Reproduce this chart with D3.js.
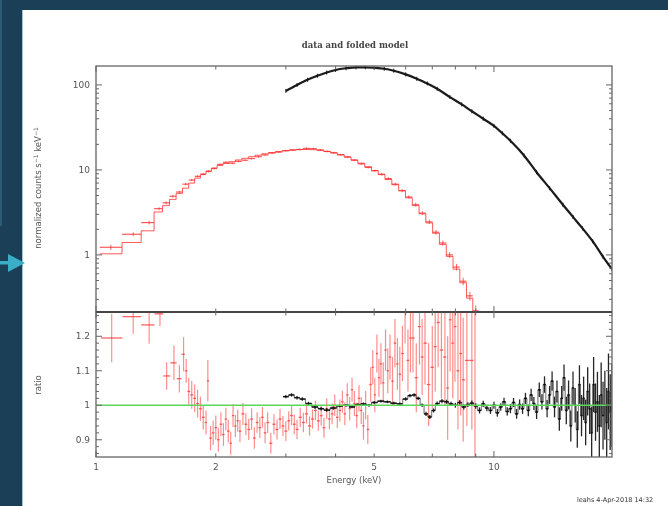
<!DOCTYPE html>
<html><head><meta charset="utf-8">
<script src="https://cdn.jsdelivr.net/npm/d3@7"></script>
<style>body{margin:0;background:#1a3f57;overflow:hidden} svg{display:block}</style>
</head><body>
<svg id="c" width="668" height="506"></svg>
<script>
// ---------- DATA ----------
const title = "data and folded model";
const xLabel = "Energy (keV)";
const xTickVals = [1, 2, 5, 10];
const xTickText = ["1", "2", "5", "10"];
const yTopTickVals = [1, 10, 100];
const yTopTickText = ["1", "10", "100"];
const yRatioTickVals = [0.9, 1, 1.1, 1.2];
const yRatioTickText = ["0.9", "1", "1.1", "1.2"];

// red spectrum (upper panel): energy (keV), data, folded model, fractional error
const redE = [1.09,1.24,1.36,1.44,1.50,1.56,1.62,1.68,1.74,1.80,1.86,1.92,1.98,2.05,2.12,2.20,2.28,2.37,2.46,2.56,2.66,2.77,2.88,3.00,3.12,3.25,3.38,3.52,3.66,3.81,3.96,4.12,4.29,4.46,4.64,4.83,5.02,5.22,5.43,5.65,5.88,6.11,6.36,6.61,6.88,7.15,7.44,7.74,8.05,8.37,8.70,9.00];
const redV = [1.23,1.75,2.4,3.5,4.1,4.9,5.5,6.8,7.6,8.4,8.9,9.6,10.4,11.6,12.3,12.0,12.6,13.0,13.6,14.3,15.0,15.8,16.2,16.8,17.1,17.4,17.9,17.8,17.2,16.5,15.9,15.1,14.2,13.0,11.8,10.7,9.8,8.9,7.9,6.8,5.7,4.8,3.9,3.1,2.45,1.85,1.38,1.0,0.72,0.49,0.33,0.22];
const redM = [1.03,1.40,1.92,3.2,3.8,4.5,5.3,6.1,7.0,8.0,8.9,9.7,10.5,11.3,11.9,12.5,13.1,13.7,14.3,14.9,15.5,16.0,16.5,16.9,17.2,17.4,17.4,17.3,17.0,16.5,15.9,15.1,14.2,13.1,12.0,10.9,9.8,8.8,7.7,6.7,5.7,4.7,3.8,3.05,2.38,1.80,1.33,0.96,0.68,0.47,0.31,0.21];
const redErr = [0.07,0.05,0.05,0.04,0.04,0.04,0.035,0.035,0.03,0.03,0.03,0.03,0.03,0.025,0.025,0.025,0.025,0.025,0.025,0.025,0.025,0.025,0.025,0.025,0.025,0.025,0.025,0.025,0.025,0.025,0.025,0.025,0.025,0.03,0.03,0.03,0.03,0.035,0.035,0.04,0.04,0.045,0.05,0.05,0.06,0.06,0.07,0.08,0.09,0.1,0.12,0.15];

// black spectrum (upper panel)
const blackE = [3.0,3.2,3.4,3.6,3.8,4.0,4.25,4.5,4.75,5.0,5.3,5.6,6.0,6.4,6.8,7.2,7.75,8.3,8.8,9.4,10.0,10.5,11.0,11.9,12.8,13.8,14.9,15.8,16.7,17.7,18.8,19.8];
const blackV = [85,100,115,128,140,150,157,161,161,159,155,147,133,118,104,90,72,59,49,40,33,27,22,14.8,9.4,6.1,3.9,2.8,2.05,1.45,0.95,0.68];

// red ratio (lower panel): energy, ratio, error
const redRE = [1.095,1.24,1.36,1.448,1.505,1.57,1.62,1.66,1.685,1.71,1.74,1.77,1.80,1.83,1.86,1.89,1.91,1.94,1.97,2.00,2.03,2.06,2.09,2.12,2.15,2.18,2.21,2.24,2.27,2.30,2.34,2.38,2.42,2.46,2.50,2.54,2.58,2.62,2.66,2.70,2.75,2.80,2.85,2.90,2.95,3.00,3.05,3.10,3.15,3.20,3.26,3.32,3.38,3.44,3.50,3.56,3.62,3.68,3.74,3.80,3.86,3.92,3.98,4.04,4.10,4.16,4.22,4.28,4.34,4.40,4.46,4.52,4.58,4.64,4.70,4.76,4.82,4.90,4.96,5.02,5.08,5.14,5.20,5.27,5.34,5.41,5.48,5.56,5.64,5.72,5.80,5.89,5.98,6.08,6.17,6.26,6.38,6.50,6.60,6.71,6.85,7.00,7.12,7.24,7.38,7.53,7.65,7.76,7.88,7.98,8.12,8.25,8.37,8.55,8.80,8.96];
const redR = [1.195,1.257,1.233,1.265,1.085,1.123,1.077,1.148,1.10,1.040,1.030,1.020,1.005,0.990,0.965,0.950,1.071,0.905,0.920,0.935,0.900,0.945,0.915,0.960,0.925,0.890,0.970,0.940,0.955,0.925,0.975,0.945,0.930,0.960,0.905,0.950,0.935,0.965,0.920,0.950,0.890,0.945,0.930,0.960,0.940,0.925,0.955,0.970,0.945,0.930,0.965,0.950,0.975,0.940,0.960,0.985,0.955,0.970,0.935,0.990,0.960,0.975,1.000,0.965,0.985,1.010,0.975,1.030,0.990,1.045,1.005,0.970,1.020,0.985,0.940,1.000,0.930,1.060,1.110,1.030,1.150,1.080,1.120,1.065,1.160,1.100,1.140,1.070,1.180,1.120,1.090,1.150,1.270,1.130,1.195,1.195,1.080,1.228,1.140,1.180,1.060,1.110,1.170,1.240,1.160,1.140,1.050,1.248,1.180,1.228,1.100,1.150,1.074,1.130,1.130,1.40];
const redRErr = [0.07,0.05,0.055,0.035,0.04,0.05,0.04,0.05,0.035,0.04,0.04,0.04,0.04,0.035,0.035,0.035,0.06,0.035,0.035,0.035,0.035,0.035,0.033,0.033,0.033,0.033,0.033,0.032,0.032,0.032,0.032,0.031,0.031,0.031,0.031,0.030,0.030,0.030,0.030,0.030,0.030,0.029,0.029,0.029,0.029,0.029,0.028,0.028,0.028,0.028,0.028,0.028,0.028,0.028,0.028,0.028,0.029,0.029,0.029,0.030,0.030,0.030,0.031,0.031,0.032,0.032,0.033,0.034,0.034,0.035,0.036,0.037,0.038,0.039,0.040,0.041,0.042,0.05,0.05,0.05,0.055,0.055,0.06,0.06,0.06,0.065,0.065,0.07,0.07,0.075,0.08,0.08,0.09,0.09,0.10,0.10,0.10,0.11,0.11,0.12,0.12,0.12,0.13,0.13,0.14,0.14,0.15,0.15,0.16,0.16,0.17,0.18,0.18,0.19,0.20,0.70];

// black ratio (lower panel)
const blackRE = [3.00,3.10,3.20,3.30,3.42,3.55,3.68,3.80,3.95,4.10,4.25,4.40,4.55,4.70,4.85,5.00,5.20,5.40,5.60,5.80,6.00,6.15,6.30,6.45,6.60,6.75,6.90,7.05,7.20,7.40,7.60,7.80,8.00,8.20,8.40,8.60,8.80,9.00,9.20,9.40,9.60,9.80,10.0,10.2,10.4,10.6,10.8,11.0,11.2,11.4,11.6,11.8,12.0,12.2,12.4,12.6,12.8,13.0,13.2,13.4,13.6,13.8,14.0,14.2,14.4,14.6,14.8,15.0,15.2,15.4,15.6,15.8,16.0,16.2,16.4,16.6,16.8,17.0,17.2,17.4,17.6,17.8,18.0,18.2,18.4,18.6,18.8,19.0,19.2,19.4,19.6,19.8];
const blackR = [1.025,1.030,1.022,1.018,1.005,0.995,0.990,0.986,0.992,0.998,1.000,0.995,1.002,1.004,1.000,1.008,1.012,1.010,1.006,1.004,1.018,1.028,1.030,1.020,1.000,0.975,0.966,0.985,1.005,1.012,1.010,1.004,1.000,1.008,0.995,1.002,1.006,0.998,0.985,1.004,0.992,0.985,1.000,0.978,0.995,1.010,0.982,0.990,1.008,0.975,1.002,0.990,1.020,0.985,1.030,1.005,0.980,1.045,1.010,1.060,0.990,1.030,1.070,0.995,1.040,0.960,1.020,1.080,0.985,1.030,0.940,1.050,1.000,0.930,1.060,0.970,1.020,0.950,1.040,0.990,0.920,1.060,0.980,1.010,0.940,1.030,0.970,1.000,0.950,1.040,0.980,1.000];
const blackRErr = [0.005,0.005,0.005,0.005,0.005,0.005,0.005,0.005,0.005,0.004,0.004,0.004,0.004,0.004,0.004,0.004,0.004,0.004,0.004,0.005,0.005,0.005,0.005,0.005,0.005,0.006,0.006,0.006,0.006,0.006,0.006,0.006,0.007,0.007,0.007,0.007,0.008,0.008,0.009,0.009,0.009,0.010,0.010,0.011,0.011,0.012,0.012,0.013,0.013,0.014,0.015,0.015,0.016,0.017,0.018,0.019,0.020,0.021,0.022,0.024,0.025,0.026,0.028,0.030,0.032,0.034,0.036,0.038,0.040,0.042,0.045,0.048,0.050,0.053,0.056,0.060,0.063,0.066,0.070,0.073,0.076,0.080,0.083,0.087,0.090,0.094,0.098,0.10,0.10,0.11,0.11,0.12];

// ---------- DRAW ----------
const svg = d3.select("#c");
const defs = svg.append("defs");
defs.append("filter").attr("id","blur").attr("x","-5%").attr("y","-5%").attr("width","110%").attr("height","110%")
  .append("feGaussianBlur").attr("stdDeviation",0.45);
defs.append("clipPath").attr("id","clipTop").append("rect").attr("x",96).attr("y",66).attr("width",516).attr("height",246);
defs.append("clipPath").attr("id","clipBot").append("rect").attr("x",96).attr("y",312).attr("width",516).attr("height",145);

// slide background
svg.append("rect").attr("width",668).attr("height",506).attr("fill","#1a3f57");
svg.append("rect").attr("x",0).attr("y",0).attr("width",2).attr("height",226).attr("fill","#2d5a74");
svg.append("rect").attr("x",22).attr("y",10).attr("width",1).attr("height",496).attr("fill","#9fc3d3");
svg.append("rect").attr("x",23).attr("y",10).attr("width",645).attr("height",496).attr("fill","#ffffff");
// cyan arrow
svg.append("rect").attr("x",0).attr("y",261).attr("width",14).attr("height",3.5).attr("fill","#3aaec6");
svg.append("path").attr("d","M8,254 L25,263 L8,272 Z").attr("fill","#3aaec6");

const g = svg.append("g").attr("filter","url(#blur)");

const x = d3.scaleLog().domain([1, 19.8]).range([96, 612]);
const yT = d3.scaleLog().domain([0.213, 167]).range([312, 66]);
const yR = d3.scaleLinear().domain([0.850, 1.2704]).range([457, 312]);

function edges(E){
  return E.map((e,i)=>{
    const hi = i < E.length-1 ? Math.sqrt(e*E[i+1]) : e*e/Math.sqrt(E[i-1]*e);
    const lo = i > 0 ? Math.sqrt(E[i-1]*e) : e*e/hi;
    return [Math.max(lo, 1), hi];
  });
}

// ----- upper panel data -----
const topG = g.append("g").attr("clip-path","url(#clipTop)");
const rEdges = edges(redE);
const stepPts = redE.map((e,i)=>[rEdges[i][0], redM[i]]);
stepPts.push([rEdges[redE.length-1][1], redM[redM.length-1]]);
topG.append("path").attr("d", d3.line().x(d=>x(d[0])).y(d=>yT(d[1])).curve(d3.curveStepAfter)(stepPts))
  .attr("fill","none").attr("stroke","#ff3030").attr("stroke-width",1).attr("opacity",0.8);
redE.forEach((e,i)=>{
  topG.append("line").attr("x1",x(rEdges[i][0])).attr("x2",x(rEdges[i][1])).attr("y1",yT(redV[i])).attr("y2",yT(redV[i]))
    .attr("stroke","#ff3030").attr("stroke-width",1.2).attr("opacity",0.8);
  topG.append("line").attr("x1",x(e)).attr("x2",x(e)).attr("y1",yT(redV[i]*(1-redErr[i]))).attr("y2",yT(redV[i]*(1+redErr[i])))
    .attr("stroke","#ff3030").attr("stroke-width",1).attr("opacity",0.75);
});
topG.append("path").attr("d", d3.line().x((d,i)=>x(blackE[i])).y(d=>yT(d)).curve(d3.curveMonotoneX)(blackV))
  .attr("fill","none").attr("stroke","#1a1a1a").attr("stroke-width",2.2);
blackE.forEach((e,i)=>{
  topG.append("line").attr("x1",x(e)).attr("x2",x(e)).attr("y1",yT(blackV[i])-2).attr("y2",yT(blackV[i])+2)
    .attr("stroke","#1a1a1a").attr("stroke-width",1);
});

// ----- lower panel data -----
const botG = g.append("g").attr("clip-path","url(#clipBot)");
const rrEdges = edges(redRE);
redRE.forEach((e,i)=>{
  botG.append("line").attr("x1",x(e)).attr("x2",x(e)).attr("y1",yR(redR[i]-redRErr[i])).attr("y2",yR(redR[i]+redRErr[i]))
    .attr("stroke","#ff3030").attr("stroke-width",1.2).attr("opacity",0.55);
  botG.append("line").attr("x1",x(rrEdges[i][0])).attr("x2",x(rrEdges[i][1])).attr("y1",yR(redR[i])).attr("y2",yR(redR[i]))
    .attr("stroke","#ff3030").attr("stroke-width",1.3).attr("opacity",0.75);
});
const brEdges = edges(blackRE);
// black ratio: contiguous bins drawn as a step trace plus error bars
const bStep = blackRE.map((e,i)=>[brEdges[i][0], blackR[i]]);
bStep.push([brEdges[blackRE.length-1][1], blackR[blackR.length-1]]);
botG.append("path").attr("d", d3.line().x(d=>x(d[0])).y(d=>yR(d[1])).curve(d3.curveStepAfter)(bStep))
  .attr("fill","none").attr("stroke","#111").attr("stroke-width",1).attr("opacity",0.6);
blackRE.forEach((e,i)=>{
  botG.append("line").attr("x1",x(e)).attr("x2",x(e)).attr("y1",yR(blackR[i]-blackRErr[i])).attr("y2",yR(blackR[i]+blackRErr[i]))
    .attr("stroke","#111").attr("stroke-width",1.3).attr("opacity",0.9);
  botG.append("line").attr("x1",x(brEdges[i][0])).attr("x2",x(brEdges[i][1])).attr("y1",yR(blackR[i])).attr("y2",yR(blackR[i]))
    .attr("stroke","#111").attr("stroke-width",1.5).attr("opacity",0.95);
});
botG.append("line").attr("x1",96).attr("x2",612).attr("y1",yR(1)).attr("y2",yR(1))
  .attr("stroke","#5ad85a").attr("stroke-width",1.6);

// ----- frames and ticks -----
const axc = "#666";
const fr = g.append("g");
fr.append("rect").attr("x",96).attr("y",66).attr("width",516).attr("height",391)
  .attr("fill","none").attr("stroke",axc).attr("stroke-width",1.3);
fr.append("line").attr("x1",96).attr("x2",612).attr("y1",312).attr("y2",312).attr("stroke","#444").attr("stroke-width",1.8);

const xt = x.ticks();
[[66,1],[312,-1],[312,1],[457,-1]].forEach(([yy,dir])=>{
  xt.forEach(t=>{
    const major = (t===1||t===10);
    const len = major?6:3.5;
    fr.append("line").attr("x1",x(t)).attr("x2",x(t)).attr("y1",yy).attr("y2",yy+dir*len)
      .attr("stroke",axc).attr("stroke-width",1);
  });
});
yT.ticks().forEach(t=>{
  const major = yTopTickVals.includes(t);
  const len = major?6:3;
  [[96,1],[612,-1]].forEach(([xx,dir])=>{
    fr.append("line").attr("x1",xx).attr("x2",xx+dir*len).attr("y1",yT(t)).attr("y2",yT(t)).attr("stroke",axc).attr("stroke-width",1);
  });
});
yR.ticks(20).forEach(t=>{
  const major = yRatioTickVals.some(v=>Math.abs(v-t)<1e-9);
  const len = major?6:3;
  [[96,1],[612,-1]].forEach(([xx,dir])=>{
    fr.append("line").attr("x1",xx).attr("x2",xx+dir*len).attr("y1",yR(t)).attr("y2",yR(t)).attr("stroke",axc).attr("stroke-width",1);
  });
});

// ----- texts -----
const font = "'DejaVu Sans', sans-serif";
const tc = "#555";
xTickVals.forEach((v,i)=>{
  g.append("text").attr("x",x(v)).attr("y",470).attr("text-anchor","middle")
    .attr("font-family",font).attr("font-size",9).attr("fill",tc).text(xTickText[i]);
});
yTopTickVals.forEach((v,i)=>{
  g.append("text").attr("x",90).attr("y",yT(v)+3).attr("text-anchor","end")
    .attr("font-family",font).attr("font-size",9).attr("fill",tc).text(yTopTickText[i]);
});
yRatioTickVals.forEach((v,i)=>{
  g.append("text").attr("x",90).attr("y",yR(v)+3).attr("text-anchor","end")
    .attr("font-family",font).attr("font-size",9).attr("fill",tc).text(yRatioTickText[i]);
});
g.append("text").attr("x",355).attr("y",48).attr("text-anchor","middle")
  .attr("font-family","'DejaVu Serif', serif").attr("font-size",8.5).attr("font-weight","bold").attr("fill","#444").text(title);
g.append("text").attr("x",354).attr("y",483).attr("text-anchor","middle")
  .attr("font-family",font).attr("font-size",8.5).attr("fill",tc).text(xLabel);
const yl = g.append("text").attr("transform","translate(41,188) rotate(-90)").attr("text-anchor","middle")
  .attr("font-family",font).attr("font-size",8.5).attr("fill",tc);
yl.append("tspan").text("normalized counts s");
yl.append("tspan").attr("dy",-3).attr("font-size",6).text("−1");
yl.append("tspan").attr("dy",3).text(" keV");
yl.append("tspan").attr("dy",-3).attr("font-size",6).text("−1");
g.append("text").attr("transform","translate(41,385) rotate(-90)").attr("text-anchor","middle")
  .attr("font-family",font).attr("font-size",8.5).attr("fill",tc).text("ratio");
g.append("text").attr("x",577).attr("y",502).attr("font-family",font).attr("font-size",6.5).attr("fill","#333")
  .text("leahs  4-Apr-2018 14:32");
</script>
</body></html>
